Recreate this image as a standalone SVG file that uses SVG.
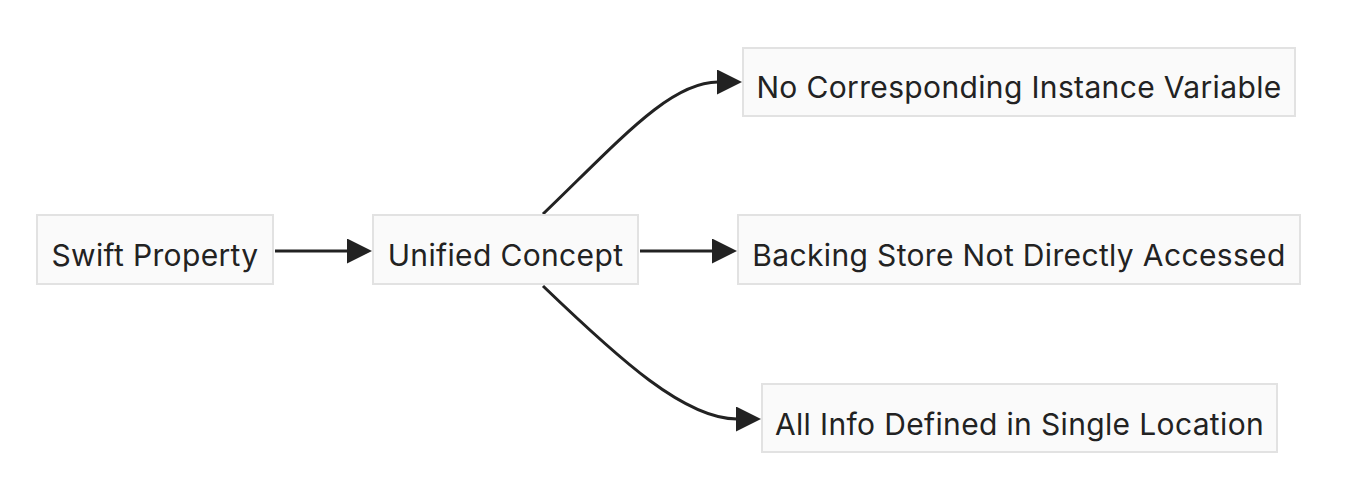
<svg xmlns="http://www.w3.org/2000/svg" width="1354" height="500" viewBox="0 0 1354 500">
<style>
.box{fill:#fafafa;stroke:#e2e2e2;stroke-width:2}
.lbl{font-family:Inter,"Liberation Sans",sans-serif;font-size:30px;letter-spacing:0.35px;fill:#222;text-anchor:middle}
.edge{fill:none;stroke:#222;stroke-width:3}
</style>
<defs>
<marker id="arr" markerUnits="userSpaceOnUse" markerWidth="26" markerHeight="26" refX="1" refY="12.5" orient="auto">
<path d="M0,0 L25,12.5 L0,25 z" fill="#222"/>
</marker>
</defs>
<rect width="1354" height="500" fill="#fff"/>
<g id="connectors">
<path class="edge" d="M275,251 L348,251" marker-end="url(#arr)"/>
<path class="edge" d="M640,251 L713,251" marker-end="url(#arr)"/>
<path class="edge" d="M543,214 C620,140 670,82 718,82" marker-end="url(#arr)"/>
<path class="edge" d="M543,286 C620,360 685,419 737,419" marker-end="url(#arr)"/>
</g>
<g id="swift">
<rect class="box" x="37" y="215" width="236" height="69"/>
<text class="lbl" x="155" y="266">Swift Property</text>
</g>
<g id="unified">
<rect class="box" x="373" y="215" width="265" height="69"/>
<text class="lbl" x="505.5" y="266">Unified Concept</text>
</g>
<g id="noivar">
<rect class="box" x="743" y="48" width="552" height="68"/>
<text class="lbl" x="1019" y="98">No Corresponding Instance Variable</text>
</g>
<g id="backing">
<rect class="box" x="738" y="215" width="562" height="69"/>
<text class="lbl" x="1019" y="266">Backing Store Not Directly Accessed</text>
</g>
<g id="allinfo">
<rect class="box" x="762" y="384" width="515" height="68"/>
<text class="lbl" x="1019.5" y="435">All Info Defined in Single Location</text>
</g>
</svg>
